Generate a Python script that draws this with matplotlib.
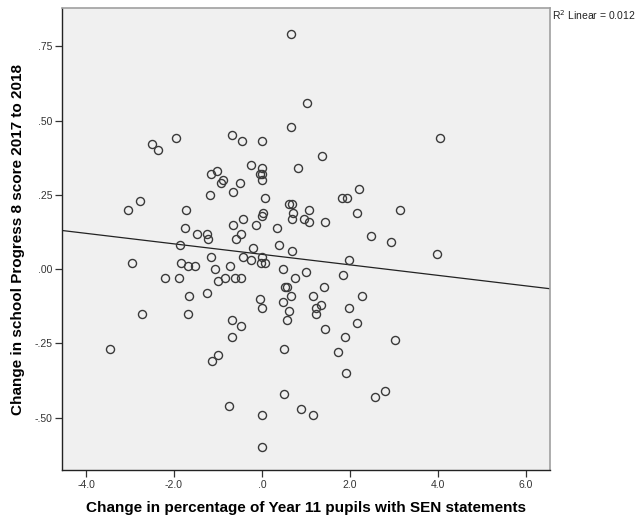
import numpy as np
import matplotlib
matplotlib.use('Agg')
import matplotlib.pyplot as plt
from matplotlib.ticker import FuncFormatter

plt.rcParams['font.family'] = ['Liberation Sans', 'DejaVu Sans']

# change in % of Year 11 pupils with SEN statements
sen_change = [
    0.65, 1.03, 0.65, 4.04, -2.49, -2.36, -1.96, -0.67, -0.45, 0.01,
    -0.24, 0.00, -0.05, 0.01, 0.00, 0.82, 1.37, -1.15, -1.03, -0.88,
    -0.92, -0.49, -0.65, -1.17, 0.08, 2.20, 1.81, 1.93, -2.78, -3.04,
    -1.73, 0.62, 0.68, 0.71, 0.68, 1.06, 0.95, 1.07, 1.44, 2.17,
    3.15, 0.03, 0.01, -1.75, -0.43, -0.66, -0.13, 0.35, -1.48, -1.26,
    -1.22, -0.47, -0.59, -1.87, -0.20, 0.39, 0.68, 2.47, 2.93, 3.97,
    1.98, 0.00, -0.25, -0.03, 0.06, -0.44, -1.16, -2.95, -1.85, -1.68,
    -1.53, -1.07, -0.73, 0.48, 1.00, 0.76, 1.84, -2.20, -1.89, -1.00,
    -0.85, -0.62, -0.47, -1.66, -1.26, -0.04, 0.01, 0.47, 0.61, 0.58,
    0.52, 0.58, 0.67, 1.40, 1.15, 1.35, 1.24, 1.22, 2.28, 1.98,
    1.43, 2.16, 1.90, 3.03, -2.73, -1.69, -0.68, -0.48, -0.67, -3.45,
    -1.00, -1.13, 0.50, 1.74, 1.92, -0.75, 0.00, 0.50, 2.80, 2.58,
    0.88, 1.15, 0.00,
]
# change in school Progress 8 score 2017 to 2018
p8_change = [
    0.79, 0.56, 0.48, 0.44, 0.42, 0.40, 0.44, 0.45, 0.43, 0.43,
    0.35, 0.34, 0.32, 0.32, 0.30, 0.34, 0.38, 0.32, 0.33, 0.30,
    0.29, 0.29, 0.26, 0.25, 0.24, 0.27, 0.24, 0.24, 0.23, 0.20,
    0.20, 0.22, 0.22, 0.19, 0.17, 0.20, 0.17, 0.16, 0.16, 0.19,
    0.20, 0.19, 0.18, 0.14, 0.17, 0.15, 0.15, 0.14, 0.12, 0.12,
    0.10, 0.12, 0.10, 0.08, 0.07, 0.08, 0.06, 0.11, 0.09, 0.05,
    0.03, 0.04, 0.03, 0.02, 0.02, 0.04, 0.04, 0.02, 0.02, 0.01,
    0.01, 0.00, 0.01, 0.00, -0.01, -0.03, -0.02, -0.03, -0.03, -0.04,
    -0.03, -0.03, -0.03, -0.09, -0.08, -0.10, -0.13, -0.11, -0.14, -0.17,
    -0.06, -0.06, -0.09, -0.06, -0.09, -0.12, -0.13, -0.15, -0.09, -0.13,
    -0.20, -0.18, -0.23, -0.24, -0.15, -0.15, -0.17, -0.19, -0.23, -0.27,
    -0.29, -0.31, -0.27, -0.28, -0.35, -0.46, -0.49, -0.42, -0.41, -0.43,
    -0.47, -0.49, -0.60,
]

x_ticks = [-4.0, -2.0, 0.0, 2.0, 4.0, 6.0]
y_ticks = [-0.50, -0.25, 0.00, 0.25, 0.50, 0.75]

x = np.array(sen_change)
y = np.array(p8_change)
slope, intercept = np.polyfit(x, y, 1)

fig = plt.figure(figsize=(6.41, 5.26), dpi=100)
ax = fig.add_axes([0.0972, 0.1065, 0.7608, 0.8777])
ax.set_facecolor('#f0f0f0')

ax.plot(x, y, 'o', mfc='none', mec='#3a3a3a', mew=1.0, ms=5.8, zorder=3)

xlim = (-4.54, 6.55)
xx = np.array(xlim)
ax.plot(xx, intercept + slope * xx, color='#222222', lw=0.9, zorder=2)
ax.set_xlim(xlim)
ax.set_ylim(-0.676, 0.878)

def fmt(v, pos, d):
    s = f'{v:.{d}f}'
    return s.replace('0.', '.', 1) if abs(v) < 1 else s

ax.set_xticks(x_ticks)
ax.set_yticks(y_ticks)
ax.xaxis.set_major_formatter(FuncFormatter(lambda v, p: fmt(v, p, 1)))
ax.yaxis.set_major_formatter(FuncFormatter(lambda v, p: fmt(v, p, 2)))
ax.tick_params(direction='out', length=5, width=0.9, labelsize=7.5,
               labelcolor='#333333', color='#333333', pad=2)

for s in ['left', 'bottom']:
    ax.spines[s].set_color('#222222')
    ax.spines[s].set_linewidth(1.0)
for s in ['top', 'right']:
    ax.spines[s].set_color('#a0a0a0')
    ax.spines[s].set_linewidth(1.2)

ax.set_xlabel('Change in percentage of Year 11 pupils with SEN statements',
              fontsize=11, fontweight='bold', labelpad=8)
ax.set_ylabel('Change in school Progress 8 score 2017 to 2018',
              fontsize=11, fontweight='bold')
ax.yaxis.set_label_coords(-0.077, 0.5)

fig.text(0.861, 0.972, 'R$^2$ Linear = ' + f'{0.012:.3f}', fontsize=7.5,
         color='#222222', va='center', ha='left')

fig.savefig('out.png', dpi=100, facecolor='white')
